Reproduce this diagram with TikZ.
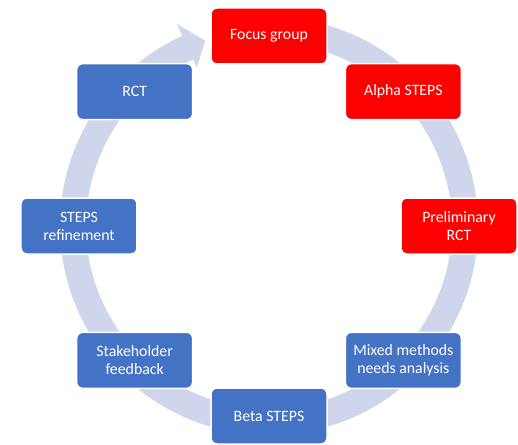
\documentclass[tikz,border=0pt]{standalone}
\usepackage{fontspec}
\setmainfont{Carlito}
\definecolor{bandcol}{RGB}{207,213,234}
\definecolor{stepred}{RGB}{255,0,0}
\definecolor{stepblue}{RGB}{68,114,196}
\tikzset{
  stage/.style={rounded corners=6pt, draw=white, line width=1.5pt,
    minimum width=116pt, minimum height=56pt, inner sep=2pt,
    align=center, text=white, font=\fontsize{15.8}{18}\selectfont},
  redstage/.style={stage, fill=stepred},
  bluestage/.style={stage, fill=stepblue}
}
\begin{document}
\begin{tikzpicture}[x=1pt,y=1pt]
  \useasboundingbox (-269pt,-218pt) rectangle (249pt,226pt);
  % circular arrow running clockwise behind the stages
  \fill[bandcol] (95:209pt) arc[start angle=95, end angle=-245.5, radius=209pt]
    -- (-245.5:222pt) -- (-251:196pt) -- (-245.5:174pt) -- (-245.5:183pt)
    arc[start angle=-245.5, end angle=95, radius=183pt] -- cycle;
  % stages
  \node[redstage]  (focus)  at (90:190pt)   {Focus group};
  \node[redstage]  (alpha)  at (45:190pt)   {Alpha STEPS};
  \node[redstage]  (prelim) at (0:190pt)    {Preliminary\\RCT};
  \node[bluestage] (mixed)  at (-45:190pt)  {Mixed methods\\needs analysis};
  \node[bluestage] (beta)   at (-90:190pt)  {Beta STEPS};
  \node[bluestage] (stake)  at (-135:190pt) {Stakeholder\\feedback};
  \node[bluestage] (refine) at (180:190pt)  {STEPS\\refinement};
  \node[bluestage] (rct)    at (135:190pt)  {RCT};
\end{tikzpicture}
\end{document}
